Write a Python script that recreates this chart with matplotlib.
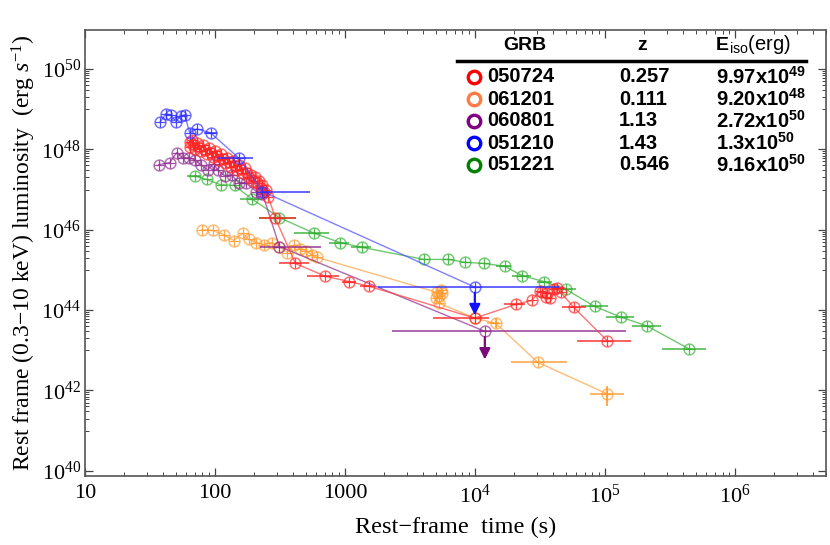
import numpy as np
import matplotlib.pyplot as plt
from matplotlib.lines import Line2D
from matplotlib.ticker import FixedLocator, FixedFormatter, LogLocator, NullFormatter

plt.rcParams['font.family'] = ['Liberation Serif', 'DejaVu Serif']
plt.rcParams['mathtext.fontset'] = 'custom'
plt.rcParams['mathtext.rm'] = 'Liberation Serif'
plt.rcParams['mathtext.it'] = 'Liberation Serif:italic'
plt.rcParams['mathtext.bf'] = 'Liberation Sans:bold'
plt.rcParams['mathtext.sf'] = 'Liberation Sans'

# ---- data: rest-frame time (s), log10 luminosity (erg/s) ----
# GRB 050724, early flare (dense)
t_050724_flare = [63.9, 63.9, 66.2, 67.3, 69.8, 72.3, 74.9, 77.6, 80.4, 83.2,
                  86.2, 89.3, 92.5, 95.9, 99.3, 102.9, 106.6, 110.4, 114.4, 118.5,
                  122.7, 127.1, 131.7, 136.5, 141.3, 146.4, 151.7, 157.1, 162.8, 168.7,
                  174.7, 181.0, 187.5, 194.3, 201.3, 208.5, 216.0, 223.8, 231.7, 240.1,
                  248.7, 257.6]
logl_050724_flare = [48.19, 48.06, 48.24, 48.11, 48.01, 48.16, 48.06, 47.97, 48.11, 47.99,
                     47.89, 48.04, 47.92, 47.82, 47.97, 47.84, 47.74, 47.89, 47.77, 47.67,
                     47.79, 47.69, 47.57, 47.72, 47.59, 47.49, 47.62, 47.52, 47.40, 47.54,
                     47.42, 47.30, 47.35, 47.22, 47.32, 47.15, 47.20, 47.05, 47.10, 46.95,
                     47.00, 46.82]
# GRB 050724, later points
t_050724 = [291.5, 415, 705, 1077, 1535, 9960, 20560, 27300, 31400, 32500,
            35600, 34900, 37500, 40200, 42400, 45500, 57300, 104200]
logl_050724 = [46.28, 45.16, 44.84, 44.71, 44.59, 43.80, 44.14, 44.24, 44.47, 44.44,
               44.42, 44.32, 44.29, 44.52, 44.54, 44.44, 44.07, 43.23]
tlo_050724 = [216, 313, 513, 951, 1297, 4745, 16600, np.nan, np.nan, np.nan,
              np.nan, np.nan, np.nan, np.nan, 38100, np.nan, 46300, 60400]
thi_050724 = [422, 531, 902, 1219, 1620, 12770, 24100, np.nan, np.nan, np.nan,
              np.nan, np.nan, np.nan, np.nan, 48000, np.nan, 71900, 159000]

# GRB 061201
t_061201 = [78.9, 95.9, 116.4, 139, 163, 181, 208, 236, 272, 313,
            360, 408, 453, 504, 560, 612, 5090, 5470, 5560, 5270,
            5000, 5270, 9960, 14450, 30300, 104300]
logl_061201 = [46.00, 45.98, 45.88, 45.73, 45.91, 45.76, 45.68, 45.63, 45.68, 45.58,
               45.43, 45.61, 45.51, 45.48, 45.36, 45.31, 44.44, 44.49, 44.42, 44.34,
               44.29, 44.17, 43.80, 43.67, 42.70, 41.91]
tlo_061201 = [np.nan] * 23 + [12300, 18800, 75900]
thi_061201 = [np.nan] * 23 + [15240, 50600, 140900]
llo_061201 = [np.nan] * 23 + [43.55, np.nan, 41.61]
lhi_061201 = [np.nan] * 23 + [43.79, np.nan, 42.11]

# GRB 060801 (last point is an upper limit)
t_060801 = [36.9, 44.9, 50.8, 56.4, 62.7, 69.8, 77.6, 87.7, 97.5, 104.7,
            118.5, 134, 151.7, 171.7, 208, 231.6, 313, 11890]
logl_060801 = [47.62, 47.67, 47.92, 47.79, 47.79, 47.74, 47.62, 47.49, 47.64, 47.49,
               47.34, 47.37, 47.17, 47.17, 46.95, 46.90, 45.58, 43.47]
tlo_060801 = [np.nan] * 16 + [220, 2300]
thi_060801 = [np.nan] * 16 + [656, 146000]

# GRB 051210 (last point is an upper limit)
t_051210 = [38, 41.8, 45.7, 49.9, 54.5, 58.4, 63.9, 72.3, 92.5, 151.7, 231.6, 9960]
logl_051210 = [48.69, 48.88, 48.86, 48.69, 48.83, 48.86, 48.41, 48.51, 48.41, 47.79,
               46.95, 44.57]
tlo_051210 = [np.nan] * 8 + [81.8, 104.7, 220, 1800]
thi_051210 = [np.nan] * 8 + [102.8, 194.3, 540, 43950]

# GRB 051221
t_051221 = [69.8, 86.2, 110.4, 141.3, 191, 313, 580, 918, 1355, 4050,
            6180, 8350, 11670, 16900, 22900, 33700, 49700, 83000, 133600, 211500,
            443600]
logl_051221 = [47.34, 47.25, 47.12, 47.10, 46.77, 46.30, 45.91, 45.68, 45.56, 45.26,
               45.26, 45.19, 45.16, 45.09, 44.86, 44.71, 44.52, 44.09, 43.82, 43.60,
               43.03]
tlo_051221 = [60.6, np.nan, np.nan, np.nan, 154.4, 216, 408, 757, 1117, np.nan,
              np.nan, np.nan, np.nan, 14450, 19150, 29800, 38800, 64800, 102500, 162000,
              275500]
thi_051221 = [76.2, np.nan, np.nan, np.nan, 231.6, 422, 757, 1077, 1589, np.nan,
              np.nan, np.nan, np.nan, 18800, 26800, 38800, 59300, 106000, 168000, 271000,
              600000]

grb_names = ['050724', '061201', '060801', '051210', '051221']
grb_z = ['0.257', '0.111', '1.13', '1.43', '0.546']
grb_e_mant = ['9.97x10', '9.20x10', '2.72x10', '1.3x10', '9.16x10']
grb_e_exp = ['49', '48', '50', '50', '50']
legend_colors = ['#ff0000', '#ff7a45', '#800080', '#0000ff', '#008000']

xtick_vals = [10, 100, 1000, 1e4, 1e5, 1e6]
xtick_labels = ['10', '100', '1000', '$10^{4}$', '$10^{5}$', '$10^{6}$']
ytick_vals = [1e40, 1e42, 1e44, 1e46, 1e48, 1e50]
ytick_labels = ['$10^{40}$', '$10^{42}$', '$10^{44}$', '$10^{46}$', '$10^{48}$', '$10^{50}$']


fig = plt.figure(figsize=(8.3, 5.45), dpi=100)
W, H = 830.0, 545.0
ax = fig.add_axes([85 / W, 1 - 476 / H, (826 - 85) / W, (476 - 30) / H])


def draw(t, logl, color, lcolor, tlo=None, thi=None, llo=None, lhi=None, z=3):
    t = np.asarray(t, dtype=float)
    lum = 10.0 ** np.asarray(logl, dtype=float)
    ax.plot(t, lum, '-', color=lcolor, lw=1.0, alpha=0.7, zorder=z)
    ax.plot(t, lum, 'o', mfc='none', mec=color, ms=7.8, mew=1.1, alpha=0.65, zorder=z + 0.1)
    ax.plot(t, lum, '+', color=color, ms=7, mew=0.9, alpha=0.85, zorder=z + 0.2)
    if tlo is not None:
        lo = np.asarray(tlo, dtype=float)
        hi = np.asarray(thi, dtype=float)
        m = ~np.isnan(lo)
        ax.hlines(lum[m], lo[m], hi[m], colors=color, lw=1.2, alpha=0.85, zorder=z + 0.2)
    if llo is not None:
        lo = np.asarray(llo, dtype=float)
        hi = np.asarray(lhi, dtype=float)
        m = ~np.isnan(lo)
        ax.vlines(t[m], 10.0 ** lo[m], 10.0 ** hi[m], colors=color, lw=1.2, zorder=z + 0.2)


def upper_limit(t, logl, color):
    ax.annotate('', xy=(t, 10.0 ** (logl - 0.7)), xytext=(t, 10.0 ** logl),
                arrowprops=dict(arrowstyle='-|>', color=color, lw=1.6,
                                mutation_scale=16, shrinkA=4, shrinkB=0),
                zorder=6)


draw(t_061201, logl_061201, '#ff9a2e', '#ffa040', tlo_061201, thi_061201,
     llo_061201, lhi_061201, z=2)
draw(t_051221, logl_051221, '#33b033', '#33b033', tlo_051221, thi_051221, z=2.5)
draw(t_060801, logl_060801, '#8e2a8e', '#8e2a8e', tlo_060801, thi_060801, z=3)
draw(t_050724_flare + t_050724, logl_050724_flare + logl_050724, '#ff2424', '#ff3a3a',
     [np.nan] * len(t_050724_flare) + tlo_050724,
     [np.nan] * len(t_050724_flare) + thi_050724, z=3.5)
draw(t_051210, logl_051210, '#2a2aff', '#4a4aff', tlo_051210, thi_051210, z=4)
upper_limit(t_051210[-1], logl_051210[-1], '#1010ff')
upper_limit(t_060801[-1], logl_060801[-1], '#7a0a7a')

ax.set_xscale('log')
ax.set_yscale('log')
ax.set_xlim(10, 5e6)
ax.set_ylim(10 ** 39.87, 10 ** 50.97)

ax.xaxis.set_major_locator(FixedLocator(xtick_vals))
ax.xaxis.set_major_formatter(FixedFormatter(xtick_labels))
ax.xaxis.set_minor_locator(LogLocator(base=10, subs=np.arange(2, 10)))
ax.xaxis.set_minor_formatter(NullFormatter())
ax.yaxis.set_major_locator(FixedLocator(ytick_vals))
ax.yaxis.set_major_formatter(FixedFormatter(ytick_labels))
ax.yaxis.set_minor_locator(FixedLocator([k * 10.0 ** n for n in (41, 43, 45, 47, 49)
                                         for k in range(1, 10)]))
ax.yaxis.set_minor_formatter(NullFormatter())

ax.tick_params(which='both', direction='in', top=True, right=True, colors='#444444',
               labelcolor='black', labelsize=16)
ax.tick_params(which='major', length=6, width=0.9)
ax.tick_params(which='minor', length=3, width=0.7)
ax.tick_params(axis='x', pad=6)
ax.tick_params(axis='y', pad=3)
for s in ax.spines.values():
    s.set_color('#555555')
    s.set_linewidth(1.2)

ax.set_xlabel('Rest\u2212frame  time (s)', fontsize=17.5, labelpad=7)
ax.set_ylabel('Rest frame (0.3\u221210 keV) luminosity  (erg $s^{-1}$)', fontsize=17,
              labelpad=2)

# ---- legend table ----
sans = 'Liberation Sans'
fig.text(525 / W, 1 - 45 / H, 'GRB', family=sans, weight='bold', fontsize=14,
         ha='center', va='center')
fig.text(642 / W, 1 - 45 / H, 'z', family=sans, weight='bold', fontsize=14,
         ha='center', va='center')
fig.text(716 / W, 1 - 45 / H, 'E', family=sans, weight='bold', fontsize=14,
         ha='left', va='center')
fig.text(729 / W, 1 - 45 / H, '$_{\\mathsf{iso}}$(erg)', family=sans, fontsize=14.5,
         ha='left', va='center')
fig.add_artist(Line2D([457 / W, 806 / W], [1 - 61 / H, 1 - 61 / H], color='black', lw=2.5))

row_y = [77, 99, 121, 143, 165]
for i in range(5):
    y = 1 - row_y[i] / H
    fig.add_artist(Line2D([474 / W], [y], marker='o', ms=9, mfc='none',
                          mec=legend_colors[i], mew=2.4))
    fig.text(487 / W, y, grb_names[i], family=sans, weight='bold', fontsize=14.5,
             ha='left', va='center')
    fig.text(619 / W, y, grb_z[i], family=sans, weight='bold', fontsize=14.5,
             ha='left', va='center')
    fig.text(716 / W, y, grb_e_mant[i] + '$^{\\mathbf{' + grb_e_exp[i] + '}}$',
             family=sans, weight='bold', fontsize=14.5, ha='left', va='center')

fig.savefig('out.png', dpi=100)
